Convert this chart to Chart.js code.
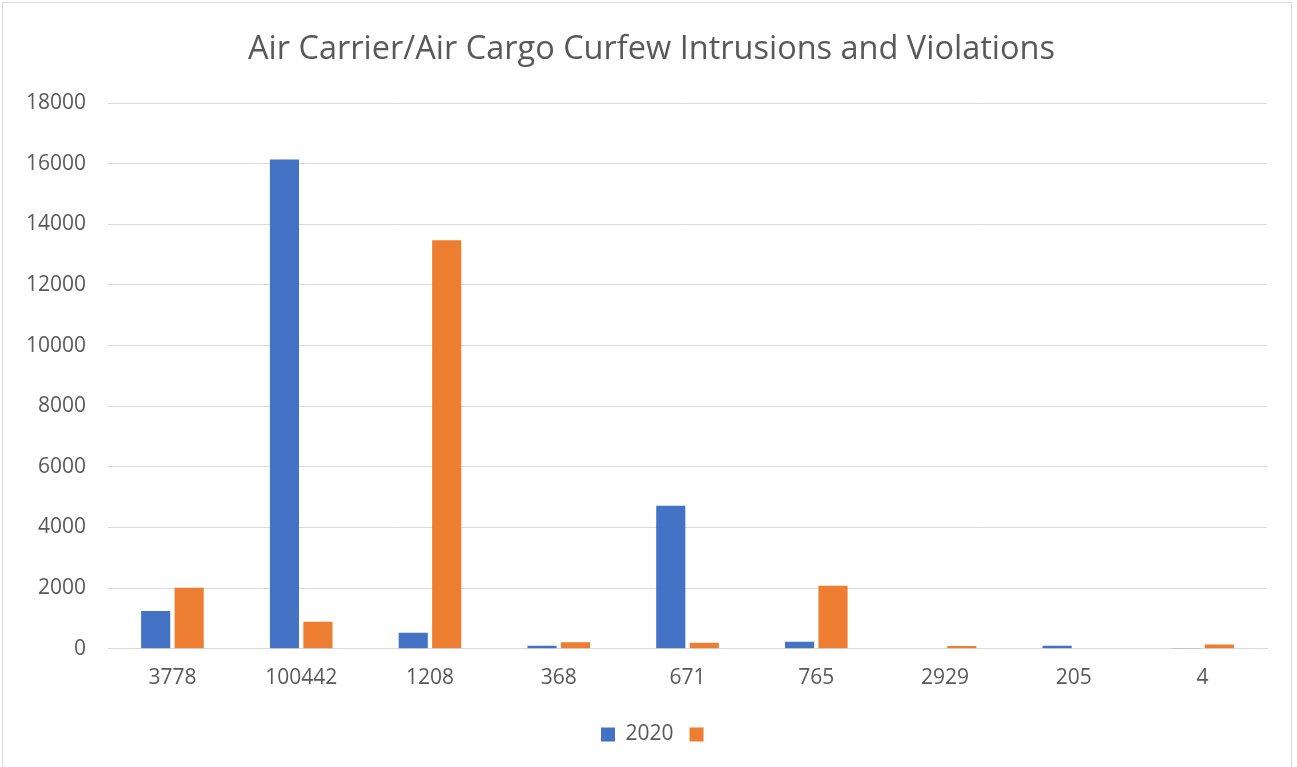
<!DOCTYPE html>
<html>
<head>
<meta charset="utf-8">
<script src="https://cdn.jsdelivr.net/npm/chart.js@4.4.0/dist/chart.umd.min.js"></script>
<style>
  html, body { margin: 0; padding: 0; background: #fff; }
  #wrap { position: absolute; left: 2px; top: 2px; width: 1290px; height: 770px; border: 1px solid #d9d9d9; box-sizing: border-box; }
  canvas { position: absolute; left: 0; top: 0; }
</style>
</head>
<body>
<div id="wrap"></div>
<canvas id="grafico" width="1297" height="767"></canvas>
<script>
// categorias y valores
var categorias = ["3778", "100442", "1208", "368", "671", "765", "2929", "205", "4"];
var serie2020 = [1250, 16140, 530, 100, 4720, 230, 0, 100, 30];
var serie2 = [2010, 890, 13470, 220, 200, 2080, 90, 0, 140];
var ticksY = [0, 2000, 4000, 6000, 8000, 10000, 12000, 14000, 16000, 18000];

var fuente = "'Open Sans', 'Liberation Sans', sans-serif";
var gris = "#595959";

// centra titulo y leyenda como en el original (un poco a la derecha)
var desplazar = {
    id: "desplazar",
    afterLayout: function (chart) {
        if (chart.titleBlock) chart.titleBlock.left += 32;
        if (chart.legend) chart.legend.left += 44;
    }
};

var ctx = document.getElementById("grafico").getContext("2d");
var grafico = new Chart(ctx, {
    type: "bar",
    data: {
        labels: categorias,
        datasets: [
            {
                label: "2020",
                backgroundColor: "#4472c4",
                data: serie2020,
                categoryPercentage: 0.52,
                barPercentage: 0.87
            },
            {
                label: "",
                backgroundColor: "#ed7d31",
                data: serie2,
                categoryPercentage: 0.52,
                barPercentage: 0.87
            }
        ]
    },
    plugins: [desplazar],
    options: {
        responsive: false,
        animation: false,
        layout: { padding: { left: 4, right: 30, top: 20, bottom: 12 } },
        plugins: {
            title: {
                display: true,
                text: "Air Carrier/Air Cargo Curfew Intrusions and Violations",
                color: gris,
                font: { family: fuente, size: 32.5, weight: "normal" },
                padding: { top: 10, bottom: 34 }
            },
            legend: {
                display: true,
                position: "bottom",
                labels: {
                    color: gris,
                    font: { family: fuente, size: 21 },
                    boxWidth: 14,
                    boxHeight: 14,
                    padding: 16
                }
            },
            tooltip: { enabled: false }
        },
        scales: {
            x: {
                grid: { display: false, drawTicks: false },
                border: { color: "#d9d9d9", width: 1 },
                ticks: { color: gris, font: { family: fuente, size: 21 }, padding: 17 }
            },
            y: {
                min: 0,
                max: 18000,
                afterBuildTicks: function (escala) {
                    escala.ticks = ticksY.map(function (v) { return { value: v }; });
                },
                grid: { color: "#d9d9d9", drawTicks: false },
                border: { display: false },
                ticks: {
                    color: gris,
                    font: { family: fuente, size: 21 },
                    padding: 22,
                    callback: function (v) { return String(v); }
                }
            }
        }
    }
});
</script>
</body>
</html>
